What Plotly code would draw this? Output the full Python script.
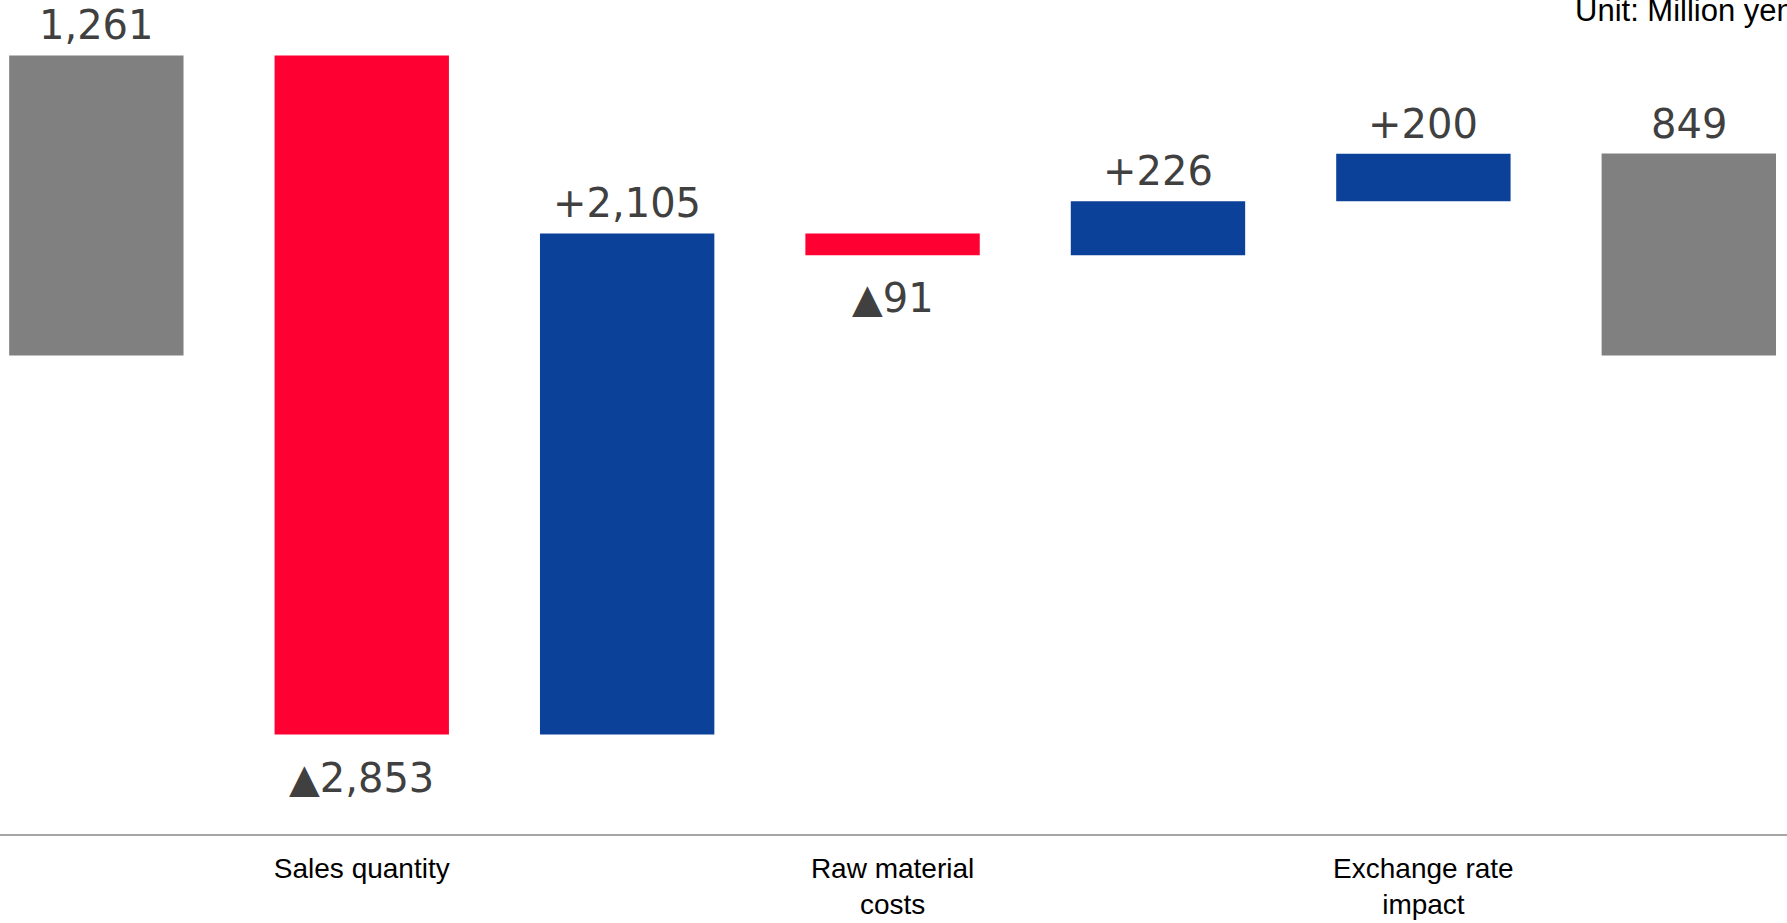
import plotly.graph_objects as go

# Operating income bridge (Million yen)
steps = ["Previous", "Sales quantity", "Price", "Raw material<br>costs", "Cost reduction", "Exchange rate<br>impact", "Current"]
shown_ticks = ["", "Sales quantity", "", "Raw material<br>costs", "", "Exchange rate<br>impact", ""]
values = [1261, -2853, 2105, -91, 226, 200, 849]
measures = ["absolute", "relative", "relative", "relative", "relative", "relative", "absolute"]
value_labels = ["1,261", "▲2,853", "+2,105", "▲91", "+226", "+200", "849"]

GRAY = "#808080"
RED = "#FF0033"
BLUE = "#0C4199"
TXT = "#404040"

xs = list(range(len(steps)))

fig = go.Figure(go.Waterfall(
    x=xs,
    y=values,
    measure=measures,
    width=[0.657] * len(xs),
    increasing=dict(marker=dict(color=BLUE)),
    decreasing=dict(marker=dict(color=RED)),
    totals=dict(marker=dict(color=GRAY)),
    connector=dict(visible=False),
    textinfo="none",
    hoverinfo="skip",
))

# bar extents for label placement
run = 0
annotations = []
for i, (v, m, lab) in enumerate(zip(values, measures, value_labels)):
    if m == "absolute":
        lo, hi = 0, v
        run = v
        above = True
    else:
        lo, hi = (run, run + v) if v >= 0 else (run + v, run)
        run += v
        above = v >= 0
    annotations.append(dict(
        x=i, y=hi if above else lo, xref="x", yref="y",
        text=lab, showarrow=False, yanchor="middle",
        yshift=30 if above else -43,
        font=dict(family="DejaVu Sans", size=40, color=TXT),
    ))

annotations.append(dict(
    x=1573 / 1787, y=1, xref="paper", yref="paper",
    xanchor="left", yanchor="middle", yshift=-10,
    text="Unit: Million yen", showarrow=False,
    font=dict(family="Liberation Sans", size=31, color="#000000"),
))

fig.update_layout(
    width=1787, height=923,
    margin=dict(l=0, r=0, t=0, b=89),
    paper_bgcolor="white", plot_bgcolor="white",
    showlegend=False,
    annotations=annotations,
    xaxis=dict(
        range=[-0.363, 6.370],
        tickmode="array", tickvals=xs, ticktext=shown_ticks,
        showline=True, linecolor="#A6A6A6", linewidth=2,
        ticks="", showgrid=False, zeroline=False,
        tickfont=dict(family="Liberation Sans", size=28, color="#000000"),
        ticklabelstandoff=8,
    ),
    yaxis=dict(
        range=[-2010, 1494],
        visible=False, showgrid=False, zeroline=False,
    ),
)

fig.write_html("out.html")
